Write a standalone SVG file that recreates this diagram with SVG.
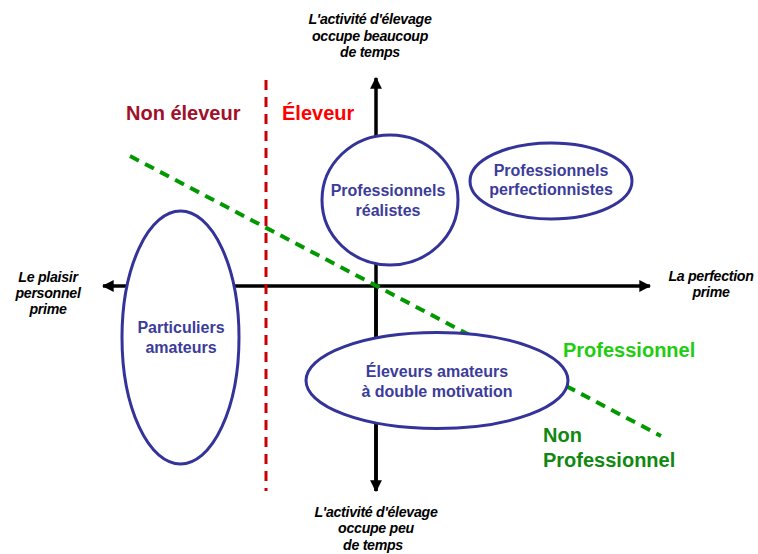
<svg xmlns="http://www.w3.org/2000/svg" width="758" height="554" viewBox="0 0 758 554">
<defs>
<marker id="arr" viewBox="0 0 10 10" refX="9" refY="5" markerWidth="3.4" markerHeight="3.4" orient="auto" markerUnits="strokeWidth">
<path d="M0,0 L10,5 L0,10 Z" fill="#000"/>
</marker>
</defs>
<style>
.axis{stroke:#000;stroke-width:3.5;fill:none}
.node ellipse{fill:#fff;stroke:#333399;stroke-width:3}
.node text{font-family:"Liberation Sans",Arial,sans-serif;font-weight:bold;font-size:16px;fill:#3c3c9a;text-anchor:middle}
.lab{font-family:"Liberation Sans",Arial,sans-serif;font-weight:bold;font-style:italic;font-size:14.2px;fill:#000;text-anchor:middle;letter-spacing:-0.3px}
.big{font-family:"Liberation Sans",Arial,sans-serif;font-weight:bold;font-size:20px}
</style>
<rect width="758" height="554" fill="#fff"/>
<g id="connectors">
<line class="axis" x1="376" y1="491" x2="376" y2="78" marker-end="url(#arr)"/>
<line class="axis" x1="376" y1="286" x2="376" y2="491" marker-end="url(#arr)"/>
<line class="axis" x1="376" y1="286" x2="103" y2="286" marker-end="url(#arr)"/>
<line class="axis" x1="376" y1="286" x2="650" y2="286" marker-end="url(#arr)"/>
<line x1="266" y1="80" x2="266" y2="491" stroke="#cc0000" stroke-width="3" stroke-dasharray="10,7"/>
<line x1="130" y1="156" x2="661" y2="436" stroke="#009900" stroke-width="4" stroke-dasharray="10,7"/>
</g>
<g id="node-particuliers" class="node">
<ellipse cx="180.5" cy="337.5" rx="58.5" ry="126.5"/>
<text x="181" y="333">Particuliers</text>
<text x="181" y="353">amateurs</text>
</g>
<g id="node-realistes" class="node">
<ellipse cx="390" cy="200" rx="68" ry="65"/>
<text x="388" y="196">Professionnels</text>
<text x="388" y="216">réalistes</text>
</g>
<g id="node-perfectionnistes" class="node">
<ellipse cx="551" cy="181" rx="81" ry="38"/>
<text x="551" y="176">Professionnels</text>
<text x="551" y="195">perfectionnistes</text>
</g>
<g id="node-eleveurs" class="node">
<ellipse cx="437" cy="380.5" rx="131" ry="48"/>
<text x="437" y="377">Éleveurs amateurs</text>
<text x="437" y="397">à double motivation</text>
</g>
<g id="labels">
<text class="lab" x="370" y="24">L'activité d'élevage</text>
<text class="lab" x="370" y="41">occupe beaucoup</text>
<text class="lab" x="370" y="57">de temps</text>
<text class="lab" x="376" y="517">L'activité d'élevage</text>
<text class="lab" x="376" y="533">occupe peu</text>
<text class="lab" x="373" y="550">de temps</text>
<text class="lab" x="48" y="282">Le plaisir</text>
<text class="lab" x="48" y="298">personnel</text>
<text class="lab" x="48" y="314">prime</text>
<text class="lab" x="711" y="281">La perfection</text>
<text class="lab" x="711" y="297">prime</text>
<text class="big" x="126" y="120" fill="#a0102a">Non éleveur</text>
<text class="big" x="282" y="120" fill="#ff0000">Éleveur</text>
<text class="big" x="563" y="357" fill="#22cc11">Professionnel</text>
<text class="big" x="543" y="442" fill="#118811">Non</text>
<text class="big" x="543" y="467" fill="#118811">Professionnel</text>
</g>
</svg>
